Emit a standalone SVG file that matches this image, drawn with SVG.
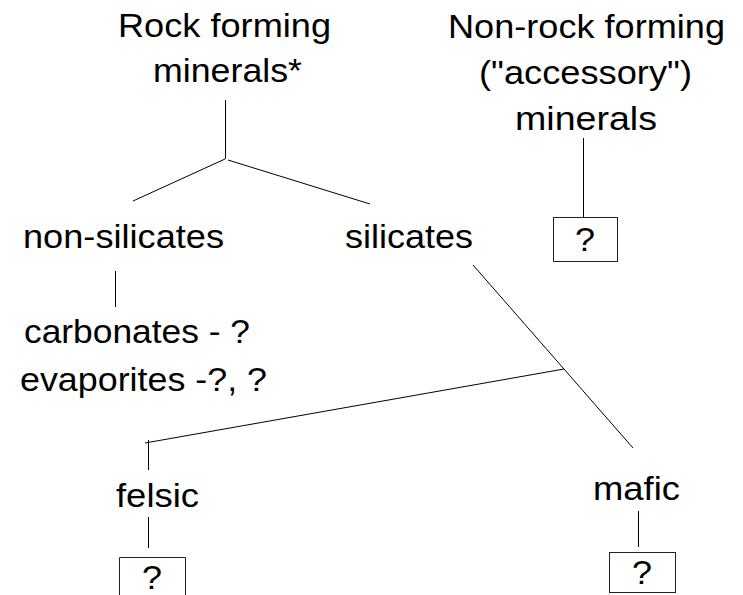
<svg xmlns="http://www.w3.org/2000/svg" width="743" height="595" viewBox="0 0 743 595">
<style>
text{font-family:"Liberation Sans",Arial,sans-serif;font-size:33px;fill:#000}
.c line{stroke:#000;stroke-width:1}
.box{fill:#fff;stroke:#222;stroke-width:1}
</style>
<rect width="743" height="595" fill="#fff"/>
<g class="c" id="connectors">
<line x1="225.5" y1="100" x2="225.5" y2="159"/>
<line x1="225" y1="159" x2="133" y2="201"/>
<line x1="228" y1="160" x2="370" y2="204"/>
<line x1="115.5" y1="271" x2="115.5" y2="307"/>
<line x1="473" y1="265" x2="633" y2="448"/>
<line x1="564" y1="369" x2="145" y2="443"/>
<line x1="148.5" y1="440" x2="148.5" y2="470"/>
<line x1="148.5" y1="517" x2="148.5" y2="548"/>
<line x1="583.5" y1="138" x2="583.5" y2="217"/>
<line x1="638.5" y1="511" x2="638.5" y2="547"/>
</g>
<g id="rock"><text x="118" y="37" textLength="213" lengthAdjust="spacingAndGlyphs">Rock forming</text><text x="153" y="82" textLength="149" lengthAdjust="spacingAndGlyphs">minerals*</text></g>
<g id="nonrock"><text x="448" y="38" textLength="277" lengthAdjust="spacingAndGlyphs">Non-rock forming</text><text x="479" y="84" textLength="213" lengthAdjust="spacingAndGlyphs">("accessory")</text><text x="515" y="130" textLength="142" lengthAdjust="spacingAndGlyphs">minerals</text></g>
<g id="q1"><rect class="box" x="553.5" y="217.5" width="64" height="44"/><text x="575" y="251" textLength="20" lengthAdjust="spacingAndGlyphs">?</text></g>
<g id="nonsilicates"><text x="23" y="248" textLength="201" lengthAdjust="spacingAndGlyphs">non-silicates</text></g>
<g id="silicates"><text x="345" y="248" textLength="128" lengthAdjust="spacingAndGlyphs">silicates</text></g>
<g id="carbonates"><text x="24" y="343" textLength="226" lengthAdjust="spacingAndGlyphs">carbonates - ?</text></g>
<g id="evaporites"><text x="20" y="391" textLength="247" lengthAdjust="spacingAndGlyphs">evaporites -?, ?</text></g>
<g id="felsic"><text x="116" y="507" textLength="83" lengthAdjust="spacingAndGlyphs">felsic</text></g>
<g id="mafic"><text x="593" y="500" textLength="87" lengthAdjust="spacingAndGlyphs">mafic</text></g>
<g id="q2"><path class="box" d="M119.5 596 V557.5 H185.5 V596"/><text x="142" y="589" textLength="20" lengthAdjust="spacingAndGlyphs">?</text></g>
<g id="q3"><rect class="box" x="609.5" y="552.5" width="66" height="40"/><text x="632" y="584" textLength="20" lengthAdjust="spacingAndGlyphs">?</text></g>
</svg>
